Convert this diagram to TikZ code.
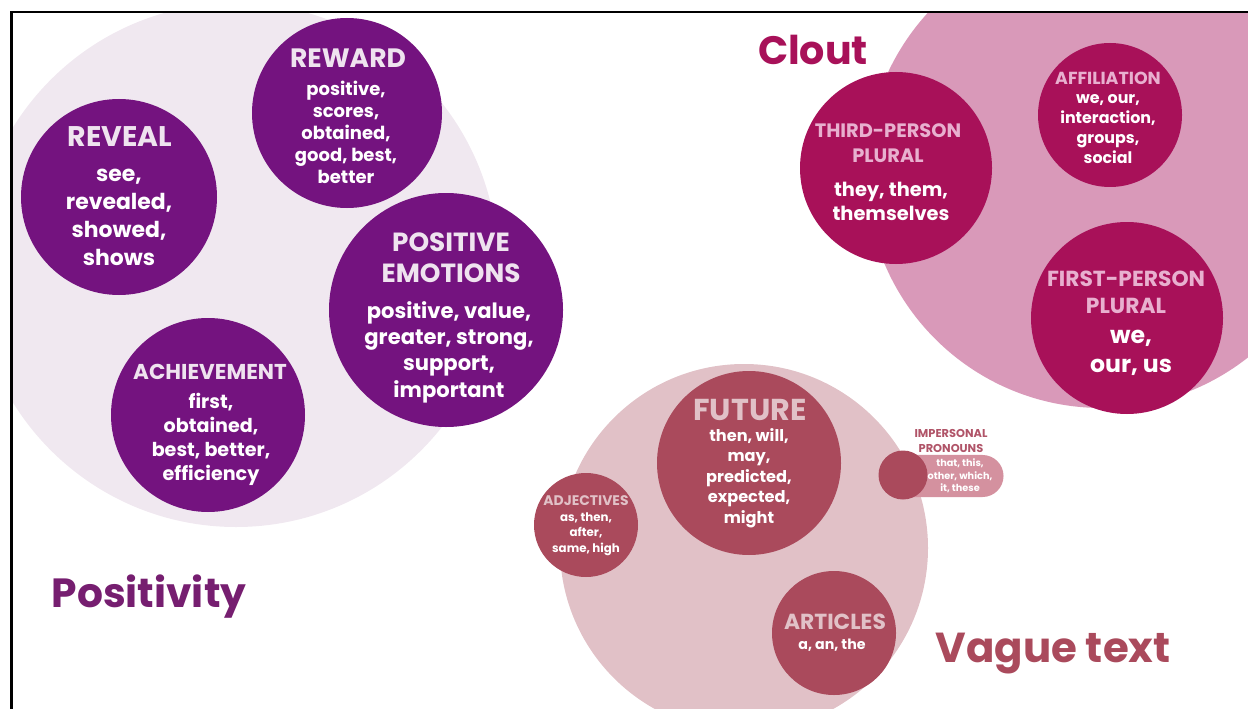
\documentclass[tikz,border=0pt]{standalone}
\usepackage{fontspec}
\setmainfont{Poppins}
\usetikzlibrary{positioning}

\definecolor{posbg}{HTML}{F0E8F0}
\definecolor{posdark}{HTML}{74137F}
\definecolor{postitle}{HTML}{EFE3EF}
\definecolor{poslabel}{HTML}{761E70}
\definecolor{cloutbg}{HTML}{D999B9}
\definecolor{cloutdark}{HTML}{A81159}
\definecolor{clouttitle}{HTML}{E8B0CF}
\definecolor{vaguebg}{HTML}{E1C1C7}
\definecolor{vaguedark}{HTML}{AA4A5C}
\definecolor{vaguepill}{HTML}{D4919F}
\definecolor{vaguelabel}{HTML}{B05468}

\begin{document}
\begin{tikzpicture}[x=0.025cm, y=-0.025cm,
    blob/.style={circle, inner sep=0pt, minimum size={2*#1*0.025cm}},
    ttl/.style 2 args={font=\bfseries\fontsize{#1}{#2}\selectfont, inner sep=0pt, align=center},
    body/.style 2 args={font=\bfseries\fontsize{#1}{#2}\selectfont, text=white, inner sep=0pt, align=center},
    biglabel/.style={font=\bfseries\fontsize{#1}{36}\selectfont, inner sep=0pt, anchor=base}]
    \useasboundingbox (0,0) rectangle (1248,709);

    % large background groups
    \begin{scope}
        \clip (11.3,12) rectangle (1248,709);
        \fill[posbg] (236,265) circle[radius=262];
        \fill[cloutbg] (1102,172) circle[radius=236];
        \fill[vaguebg] (744,548) circle[radius=184];
    \end{scope}

    % group names
    \node[biglabel=29, text=poslabel] (positivity) at (149,607) {Positivity};
    \node[biglabel=28.2, text=cloutdark] (clout) at (813,65) {Clout};
    \node[biglabel=29.8, text=vaguedark] (vague) at (1053,662) {Vague text};

    % Positivity
    \node[blob=98, fill=posdark] (reveal) at (119,197) {};
    \node[blob=95, fill=posdark] (reward) at (347,113) {};
    \node[blob=117, fill=posdark] (posemo) at (446,310) {};
    \node[blob=97, fill=posdark] (achieve) at (208,415) {};

    \node[ttl={20.2}{20}, text=postitle] (revealT) at (120,137) {REVEAL};
    \node[body={15.6}{19.9}] (revealB) at (119,217) {see,\\revealed,\\showed,\\shows};
    \node[ttl={18.9}{20}, text=postitle] (rewardT) at (348,58) {REWARD};
    \node[body={12.8}{15.6}] (rewardB) at (346,132) {positive,\\scores,\\obtained,\\good, best,\\better};
    \node[ttl={18.7}{22}, text=postitle] (posemoT) at (451,258) {POSITIVE\\EMOTIONS};
    \node[body={15}{18.7}] (posemoB) at (449,352) {positive, value,\\greater, strong,\\support,\\important};
    \node[ttl={15.3}{16}, text=postitle] (achieveT) at (210,372) {ACHIEVEMENT};
    \node[body={13.6}{17.1}] (achieveB) at (211,439) {first,\\obtained,\\best, better,\\efficiency};

    % Clout
    \node[blob=96, fill=cloutdark] (third) at (896,168) {};
    \node[blob=72, fill=cloutdark] (affil) at (1110,115) {};
    \node[blob=96, fill=cloutdark] (first) at (1127,318) {};

    \node[ttl={13.8}{17.8}, text=clouttitle] (thirdT) at (888,143) {THIRD-PERSON\\PLURAL};
    \node[body={13.8}{17.1}] (thirdB) at (891,201) {they, them,\\themselves};
    \node[ttl={12.4}{14}, text=clouttitle] (affilT) at (1108,78) {AFFILIATION};
    \node[body={11.3}{14.4}] (affilB) at (1108,129) {we, our,\\interaction,\\groups,\\social};
    \node[ttl={15.5}{19.2}, text=clouttitle] (firstT) at (1126,292) {FIRST-PERSON\\PLURAL};
    \node[body={16.8}{20.6}] (firstB) at (1131,353) {we,\\our, us};

    % Vague text
    \node[rectangle, rounded corners=0.525cm, fill=vaguepill, minimum width=2.825cm,
          minimum height=1.05cm, inner sep=0pt] (imppill) at (947,476) {};
    \node[blob=92, fill=vaguedark] (future) at (749,463) {};
    \node[blob=52, fill=vaguedark] (adject) at (586,525) {};
    \node[blob=62, fill=vaguedark] (article) at (834,633) {};
    \node[blob=24.5, fill=vaguedark] (imper) at (903,475) {};

    \node[ttl={21.5}{22}, text=vaguebg] (futureT) at (750,410) {FUTURE};
    \node[body={11.5}{14.6}] (futureB) at (749,478) {then, will,\\may,\\predicted,\\expected,\\might};
    \node[ttl={9.9}{11}, text=vaguebg] (adjectT) at (586,501) {ADJECTIVES};
    \node[body={8.4}{11}] (adjectB) at (586,534) {as, then,\\after,\\same, high};
    \node[ttl={15.5}{16}, text=vaguebg] (articleT) at (835,622) {ARTICLES};
    \node[body={10.1}{12}] (articleB) at (832,645) {a, an, the};
    \node[ttl={8.1}{10}, text=vaguelabel] (imperT) at (951,441) {IMPERSONAL\\PRONOUNS};
    \node[body={6.9}{8.9}] (imperB) at (960,476) {that, this,\\other, which,\\it, these};

    % frame
    \draw[line width=1.8pt] (11.3,709) -- (11.3,12) -- (1248,12);
\end{tikzpicture}
\end{document}
